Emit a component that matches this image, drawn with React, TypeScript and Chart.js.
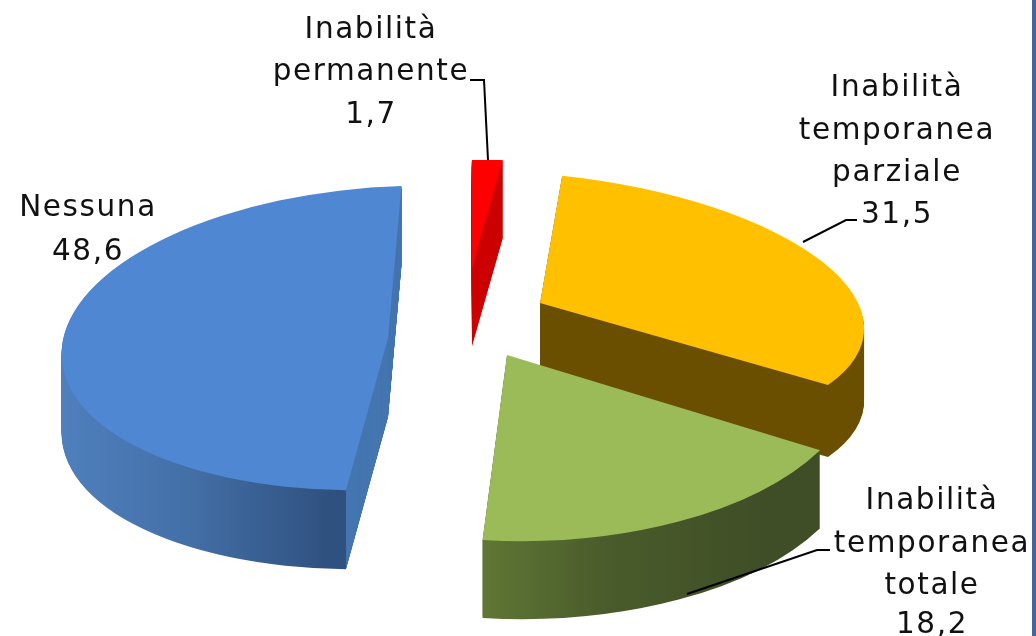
import React, { useEffect, useRef } from "react";
import { Chart, registerables } from "chart.js";

Chart.register(...registerables);

const categories = ["Inabilità temporanea parziale", "Inabilità temporanea totale", "Nessuna", "Inabilità permanente"];
const values = [31.5, 18.2, 48.6, 1.7];
const valueLabels = ["31,5", "18,2", "48,6", "1,7"];
const topColors = ["#ffc000", "#9bbb59", "#4f87d2", "#ff0000"];

// The look of each exploded slice: affine projection of the flat pie, wall depth and wall colours.
const projections = [
  { a: 324, b: 22, c: 9, d: 130, ox: 540, oy: 303, depth: 72 },
  { a: 356, b: 6, c: 3, d: 186, ox: 507, oy: 355, depth: 78 },
  { a: 326, b: -8, c: -17, d: 152, ox: 388, oy: 338, depth: 79 },
  { a: 290, b: -5, c: -3, d: 108, ox: 472, oy: 268, depth: 78 },
];
const wallStops: [number, string][][] = [
  [[0, "#6b4f00"], [1, "#6b4f00"]],
  [[482, "#5f7635"], [600, "#4a5c2b"], [760, "#3f4e26"], [830, "#3f4e26"]],
  [[62, "#4f80bd"], [200, "#4470a8"], [345, "#2f5180"]],
  [[0, "#cc0000"], [1, "#cc0000"]],
];
const cutWall = { index: 2, fromX: 346, color: "#4577b0" };
const drawOrder = [3, 0, 2, 1];

const labelLines = [
  { x: 897, y: [88, 131, 173, 215], lines: ["Inabilità", "temporanea", "parziale"] },
  { x: 932, y: [501, 544, 586, 625], lines: ["Inabilità", "temporanea", "totale"] },
  { x: 88, y: [208, 252], lines: ["Nessuna"] },
  { x: 371, y: [30, 72, 115], lines: ["Inabilità", "permanente"] },
];
const leaders = [
  [[857, 220], [846, 220], [803, 242]],
  [[830, 550], [817, 550], [687, 594]],
  [],
  [[470, 80], [484, 80], [488, 160]],
];

const pie3d = {
  id: "pie3d",
  beforeDatasetsDraw(chart: any) {
    const ctx = chart.ctx;
    const arcs = chart.getDatasetMeta(0).data;
    for (const i of drawOrder) {
      const arc = arcs[i];
      const p = projections[i];
      const R = arc.outerRadius;
      const base = arc.options;
      const project = (shift: number) => {
        ctx.translate(p.ox, p.oy + shift);
        ctx.transform(p.a / R, p.b / R, p.c / R, p.d / R, 0, 0);
        ctx.translate(-arc.x, -arc.y);
      };
      const stops = wallStops[i];
      const toLocal = (X: number) => arc.x + ((X - p.ox) * R) / p.a;
      const grad = ctx.createLinearGradient(toLocal(stops[0][0]), 0, toLocal(stops[stops.length - 1][0]), 0);
      const span = stops[stops.length - 1][0] - stops[0][0];
      stops.forEach(([x, col]) => grad.addColorStop((x - stops[0][0]) / span, col));
      const paint = (shift: number, color: any) => {
        arc.options = { ...base, backgroundColor: color, borderWidth: 0 };
        ctx.save();
        project(shift);
        arc.draw(ctx);
        ctx.restore();
      };
      for (let s = p.depth; s >= 1; s--) paint(s, grad);
      if (cutWall.index === i) {
        ctx.save();
        ctx.beginPath();
        ctx.rect(cutWall.fromX, 0, chart.width, chart.height);
        ctx.clip();
        for (let s = p.depth; s >= 1; s--) paint(s, cutWall.color);
        ctx.restore();
      }
      paint(0, topColors[i]);
      arc.options = base;
    }
    return false;
  },
  afterDraw(chart: any) {
    const ctx = chart.ctx;
    ctx.save();
    ctx.strokeStyle = "#000000";
    ctx.lineWidth = 2;
    for (const pts of leaders) {
      if (!pts.length) continue;
      ctx.beginPath();
      pts.forEach(([x, y], k) => (k ? ctx.lineTo(x, y) : ctx.moveTo(x, y)));
      ctx.stroke();
    }
    ctx.fillStyle = "#111111";
    ctx.font = "29.5px 'DejaVu Sans'";
    ctx.textAlign = "center";
    ctx.textBaseline = "middle";
    (ctx as any).letterSpacing = "1.6px";
    labelLines.forEach((l, i) => {
      [...l.lines, valueLabels[i]].forEach((t, k) => ctx.fillText(t, l.x, l.y[k]));
    });
    ctx.restore();
  },
};

export default function App() {
  const ref = useRef<HTMLCanvasElement>(null);
  useEffect(() => {
    document.body.style.margin = "0";
    const chart = new Chart(ref.current as HTMLCanvasElement, {
      type: "pie",
      data: {
        labels: categories,
        datasets: [{ data: values, backgroundColor: topColors, borderWidth: 0 }],
      },
      options: {
        animation: false,
        responsive: false,
        rotation: 5.5,
        plugins: { legend: { display: false }, tooltip: { enabled: false } },
      },
      plugins: [pie3d],
    });
    return () => chart.destroy();
  }, []);
  return (
    <div style={{ position: "relative", width: 1036, height: 636, overflow: "hidden", background: "#ffffff" }}>
      <canvas ref={ref} width={1036} height={636} style={{ display: "block", filter: "blur(0.5px)" }} />
      <div style={{ position: "absolute", left: 1032, top: 0, width: 4, height: 636, background: "#41669a" }} />
    </div>
  );
}
